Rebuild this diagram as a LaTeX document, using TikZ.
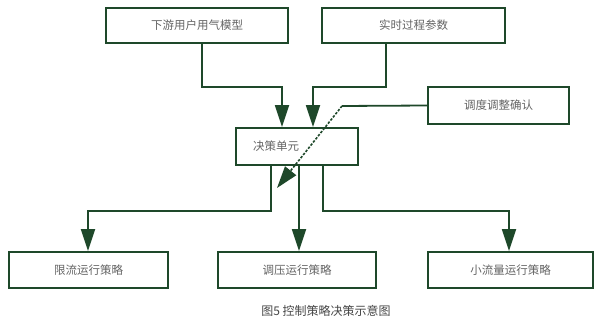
\documentclass[tikz,border=0pt]{standalone}
\usepackage{fontspec}
\usepackage{xcolor}
\usepackage{tikz}
\usetikzlibrary{arrows.meta, positioning, calc}
\setmainfont{Noto Sans CJK SC}
\definecolor{mygreen}{RGB}{30,72,42}
\definecolor{mytext}{RGB}{100,100,100}
\definecolor{mycap}{RGB}{70,70,70}
\tikzset{
  block/.style={rectangle, draw=mygreen, fill=white, line width=1.8pt,
    text=mytext, font=\fontsize{11.5}{12}\selectfont,
    minimum height=36pt, inner sep=0pt, align=center},
  arrow/.style={-{Triangle[length=22pt,width=14pt]}, line width=1.8pt, color=mygreen},
  line/.style={line width=1.8pt, color=mygreen}
}
\begin{document}
\begin{tikzpicture}[x=1pt, y=-1pt]
    \useasboundingbox (0,0) rectangle (600,323);
    % inputs
    \node[block, minimum width=182pt, minimum height=35pt] (model) at (197,25.5) {下游用户用气模型};
    \node[block, minimum width=183pt, minimum height=35pt] (param) at (413.5,25.5) {实时过程参数};
    \node[block, minimum width=141pt, minimum height=37pt] (confirm) at (498.5,105.5) {调度调整确认};
    % decision
    \node[block, minimum width=122pt, minimum height=37pt, text width=88pt, align=left] (unit) at (297,146.5) {决策单元};
    % strategies
    \node[block, minimum width=159pt] (limit) at (88.5,270) {限流运行策略};
    \node[block, minimum width=158pt] (press) at (297,270) {调压运行策略};
    \node[block, minimum width=165pt] (small) at (510.5,270) {小流量运行策略};
    \node[font=\fontsize{12}{12}\selectfont, text=mycap] (caption) at (326,311) {图5\ 控制策略决策示意图};

    \draw[arrow] ([xshift=5pt]model.south) -- ++(0,43) -| ([xshift=-15pt]unit.north);
    \draw[arrow] ([xshift=-27.5pt]param.south) -- ++(0,43) -| ([xshift=16pt]unit.north);
    \coordinate (bend) at (342,106);
    \coordinate (tip) at (277,188);
    \draw[line] (confirm.west) -- (bend);
    \draw[arrow, line width=1.6pt, dash pattern=on 2.5pt off 1.5pt] (bend) -- (tip);

    \draw[arrow] ([xshift=-26pt]unit.south) -- ++(0,45) -| ([xshift=-0.5pt]limit.north);
    \draw[arrow] ([xshift=2pt]unit.south) -- ([xshift=2pt]press.north);
    \draw[arrow] ([xshift=26pt]unit.south) -- ++(0,45) -| ([xshift=-1.5pt]small.north);
  \end{tikzpicture}
\end{document}
